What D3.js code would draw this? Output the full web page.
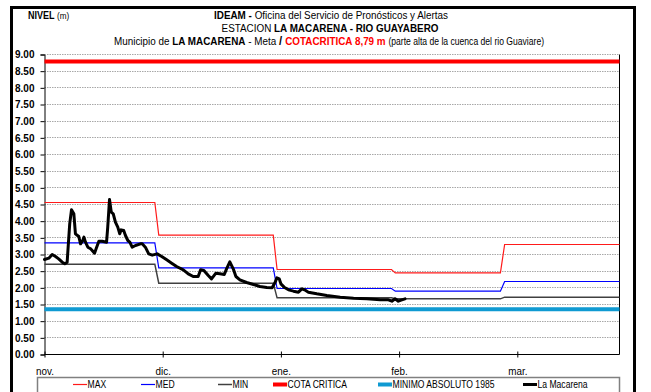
<!DOCTYPE html>
<html>
<head>
<meta charset="utf-8">
<script src="https://cdn.jsdelivr.net/npm/d3@7"></script>
<style>
  body { margin: 0; background: #fff; }
  svg { display: block; }
  text { font-family: "Liberation Sans", Arial, sans-serif; }
</style>
</head>
<body>
<svg id="chart" width="651" height="392"></svg>
<script>
// ---- data ----
const monthStarts = ["2018-11-01", "2018-12-01", "2019-01-01", "2019-02-01", "2019-03-01", "2019-04-01"];
const monthLabels = ["nov.", "dic.", "ene.", "feb.", "mar."];
const levelTicks = [0, 0.5, 1, 1.5, 2, 2.5, 3, 3.5, 4, 4.5, 5, 5.5, 6, 6.5, 7, 7.5, 8, 8.5, 9];

const cotaCritica = 8.79;       // m
const minimoAbsoluto = 1.36;    // m, 1985

// historical monthly levels (each value holds from its start date)
const stepStarts = ["2018-11-01", "2018-11-30", "2018-12-31", "2019-01-31", "2019-02-26"];
const maxLevels = [4.56, 3.58, 2.55, 2.45, 3.30];
const medLevels = [3.35, 2.60, 1.98, 1.90, 2.19];
const minLevels = [2.71, 2.14, 1.70, 1.67, 1.72];

// La Macarena observed level: days since 1 Nov and level (m)
const obsDays = [0, 1.1, 1.95, 2.8, 3.6, 4.5, 5.15, 5.75, 6.0, 6.4, 6.85, 7.45, 7.85, 8.7, 9.15, 9.7, 10.0, 10.4, 11.0, 11.7,
  12.1, 12.7, 13.1, 13.8, 14.65, 15.75, 16.05, 16.5, 16.95, 17.45, 18.0, 18.6, 19.1, 19.45, 20.1, 20.55, 21.15, 21.65, 22.25, 23.1,
  24.35, 24.8, 25.6, 26.45, 27.35, 28.6, 29.75, 31.05, 32.35, 33.65, 35.4, 36.7, 38.0, 39.3, 39.95, 40.8, 41.95, 42.8, 43.95, 45.0,
  46.15, 46.75, 47.6, 48.5, 49.2, 50.25, 52.0, 53.8, 55.5, 57.3, 58.7, 59.5, 59.95, 60.55, 61.0, 61.85, 63.0, 64.3, 65.6, 66.5,
  67.2, 68.2, 70.4, 73.05, 76.55, 80.05, 83.55, 87.05, 89.2, 90.1, 90.95, 91.8, 92.65, 93.4];
const obsLevels = [2.85, 2.89, 3.00, 2.94, 2.87, 2.77, 2.72, 2.77, 3.22, 3.92, 4.34, 4.22, 3.62, 3.54, 3.32, 3.42, 3.52, 3.37, 3.22, 3.17,
  3.12, 3.04, 3.17, 3.40, 3.40, 3.37, 3.82, 4.65, 4.27, 4.22, 3.97, 3.82, 3.62, 3.74, 3.72, 3.57, 3.42, 3.37, 3.22, 3.27,
  3.32, 3.32, 3.22, 3.02, 2.98, 3.02, 2.94, 2.84, 2.74, 2.64, 2.54, 2.42, 2.34, 2.34, 2.54, 2.52, 2.37, 2.27, 2.44, 2.42,
  2.40, 2.57, 2.78, 2.57, 2.34, 2.24, 2.16, 2.10, 2.04, 2.01, 2.00, 2.17, 2.30, 2.27, 2.12, 2.02, 1.94, 1.90, 1.87, 1.97,
  1.94, 1.87, 1.82, 1.77, 1.72, 1.69, 1.67, 1.64, 1.64, 1.60, 1.67, 1.60, 1.64, 1.67];

// ---- layout ----
const W = 651, H = 392;
const plot = { left: 44.5, top: 54.5, width: 575, height: 300 };
const monthStep = 118.2;
const condense = 0.86;   // horizontal squeeze for the narrow captions

const parse = d3.timeParse("%Y-%m-%d");
const dayMs = 864e5;
const seasonStart = parse(monthStarts[0]);

const x = d3.scaleTime()
  .domain(monthStarts.map(parse))
  .range(monthStarts.map((d, i) => i * monthStep));
const y = d3.scaleLinear().domain([0, 9]).range([plot.height, 0]);
const endDate = x.invert(plot.width);

const svg = d3.select("#chart");
svg.append("rect").attr("width", W).attr("height", H).attr("fill", "#fff");

// outer frame
svg.append("path")
  .attr("d", `M11.5,${H + 5} V7.5 H634.5 V${H + 5}`)
  .attr("fill", "none").attr("stroke", "#000").attr("stroke-width", 3);

// narrow caption placed at (px, py)
function caption(parent, px, py, size, anchor) {
  return parent.append("text")
    .attr("transform", `translate(${px},${py}) scale(${condense},1)`)
    .attr("text-anchor", anchor || "start")
    .attr("font-size", size).attr("fill", "#000");
}

// ---- titles ----
const title = svg.append("g");
const t1 = caption(title, 331, 19, 11.5, "middle");
t1.append("tspan").attr("font-weight", "bold").text("IDEAM - ");
t1.append("tspan").text("Oficina del Servicio de Pronósticos y Alertas");
const t2 = caption(title, 330, 32, 11.5, "middle");
t2.append("tspan").text("ESTACION ");
t2.append("tspan").attr("font-weight", "bold").text("LA MACARENA - RIO GUAYABERO");
const t3 = caption(title, 329, 45, 11.5, "middle");
t3.append("tspan").text("Municipio de ");
t3.append("tspan").attr("font-weight", "bold").text("LA MACARENA");
t3.append("tspan").text(" - Meta  ");
t3.append("tspan").attr("font-weight", "bold").attr("font-size", 13).text("/ ");
t3.append("tspan").attr("font-weight", "bold").attr("fill", "#ff0000").text("COTACRITICA 8,79 m ");
t3.append("tspan").attr("font-size", 10).text("(parte alta de la cuenca del rio Guaviare)");

const nivel = caption(title, 28, 19, 10.5);
nivel.append("tspan").attr("font-weight", "bold").text("NIVEL ");
nivel.append("tspan").attr("font-size", 9.5).text("(m)");

// ---- plot ----
const g = svg.append("g").attr("transform", `translate(${plot.left},${plot.top})`);

// dotted gridlines
g.append("g").selectAll("line")
  .data(levelTicks.filter(v => v > 0))
  .join("line")
  .attr("x1", 0).attr("x2", plot.width)
  .attr("y1", d => Math.round(y(d))).attr("y2", d => Math.round(y(d)))
  .attr("stroke", "#a8a8a8").attr("stroke-width", 1).attr("stroke-dasharray", "1.5,1");

// right border of plot
g.append("line").attr("x1", plot.width).attr("x2", plot.width).attr("y1", 0).attr("y2", plot.height)
  .attr("stroke", "#000").attr("stroke-width", 1);

// y axis
const yAxis = g.append("g")
  .call(d3.axisLeft(y).tickValues(levelTicks).tickFormat(d3.format(".2f")).tickSize(4).tickPadding(6));
yAxis.select(".domain").attr("stroke", "#000");
yAxis.selectAll("text").attr("font-size", 10).attr("font-weight", "bold").attr("fill", "#000")
  .attr("font-family", "'Liberation Sans', Arial, sans-serif");

// x axis
const xAxis = g.append("g").attr("transform", `translate(0,${plot.height})`)
  .call(d3.axisBottom(x).tickValues(monthStarts.slice(0, 5).map(parse)).tickFormat((d, i) => monthLabels[i])
    .tickSizeInner(3).tickSizeOuter(0).tickPadding(9));
xAxis.select(".domain").attr("d", `M0,0H${plot.width}`).attr("stroke", "#000");
xAxis.selectAll(".tick line").attr("y1", -3).attr("y2", 3);
xAxis.selectAll("text").attr("font-size", 11.5).attr("fill", "#000")
  .attr("font-family", "'Liberation Sans', Arial, sans-serif")
  .attr("transform", `scale(${condense},1)`);

// historical step series
function stepPoints(levels) {
  const pts = [];
  const starts = stepStarts.map(parse);
  levels.forEach((v, i) => {
    pts.push([starts[i], v]);
    const next = i + 1 < starts.length ? new Date(+starts[i + 1] - dayMs) : endDate;
    pts.push([next, v]);
  });
  return pts;
}
const line = d3.line().x(d => x(d[0])).y(d => y(d[1]));

const series = [
  { levels: minLevels, color: "#404040", width: 1.5 },
  { levels: medLevels, color: "#0000ff", width: 1.2 },
  { levels: maxLevels, color: "#ff1a1a", width: 1.2 }
];
series.forEach(s => {
  g.append("path").attr("d", line(stepPoints(s.levels)))
    .attr("fill", "none").attr("stroke", s.color).attr("stroke-width", s.width);
});

// critical level and absolute minimum
g.append("path").attr("d", line([[seasonStart, cotaCritica], [endDate, cotaCritica]]))
  .attr("stroke", "#ff0000").attr("stroke-width", 4);
g.append("path").attr("d", line([[seasonStart, minimoAbsoluto], [endDate, minimoAbsoluto]]))
  .attr("stroke", "#0f9ad2").attr("stroke-width", 4);

// observed level
const obs = obsDays.map((d, i) => [new Date(+seasonStart + d * dayMs), obsLevels[i]]);
g.append("path").attr("d", line(obs))
  .attr("fill", "none").attr("stroke", "#000").attr("stroke-width", 3)
  .attr("stroke-linejoin", "round").attr("stroke-linecap", "round");

// ---- legend ----
const legendItems = [
  { label: "MAX", color: "#ff1a1a", width: 1.2, x: 73 },
  { label: "MED", color: "#0000ff", width: 1.2, x: 141 },
  { label: "MIN", color: "#404040", width: 1.5, x: 218 },
  { label: "COTA CRITICA", color: "#ff0000", width: 4, x: 273 },
  { label: "MINIMO ABSOLUTO 1985", color: "#0f9ad2", width: 4, x: 378 },
  { label: "La Macarena", color: "#000", width: 3, x: 523 }
];
const legend = svg.append("g");
legend.append("rect").attr("x", 37.5).attr("y", 377.5).attr("width", 582).attr("height", 30)
  .attr("fill", "#fff").attr("stroke", "#808080").attr("stroke-width", 1.5);
const li = legend.selectAll("g.item").data(legendItems).join("g").attr("class", "item")
  .attr("transform", d => `translate(${d.x},384.5)`);
li.append("line").attr("x1", 0).attr("x2", 14).attr("stroke", d => d.color).attr("stroke-width", d => d.width);
li.append("text").attr("transform", `translate(14.5,3.5) scale(${condense},1)`)
  .attr("font-size", 10).attr("fill", "#000")
  .text(d => d.label);
</script>
</body>
</html>
